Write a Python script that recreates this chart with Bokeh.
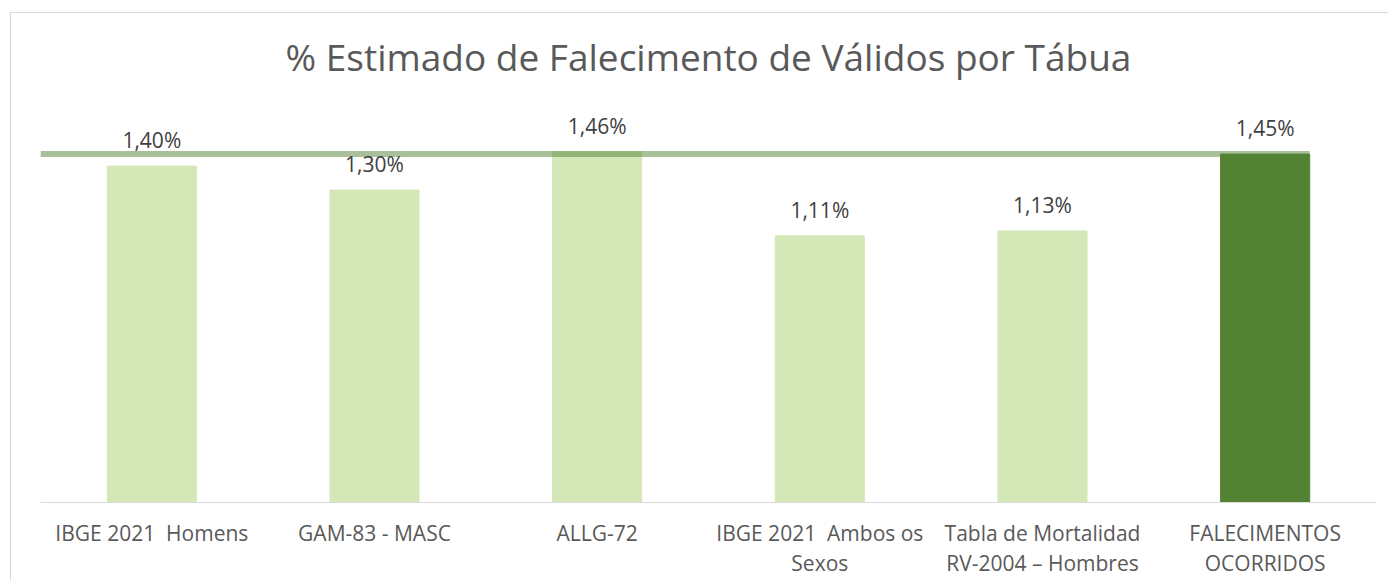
from bokeh.plotting import figure
from bokeh.models import FactorRange, Range1d, ColumnDataSource
from bokeh.core.properties import value
from bokeh.embed import file_html
from bokeh.resources import INLINE

title_text = "% Estimado de Falecimento de Válidos por Tábua"
categories = [
    "IBGE 2021\u00a0 Homens",
    "GAM-83 - MASC",
    "ALLG-72",
    "IBGE 2021\u00a0 Ambos os\nSexos",
    "Tabla de Mortalidad\nRV-2004 \u2013 Hombres",
    "FALECIMENTOS\nOCORRIDOS",
]
values = [1.40, 1.30, 1.46, 1.11, 1.13, 1.45]
colors = ["#d4e8b7", "#d4e8b7", "#d4e8b7", "#d4e8b7", "#d4e8b7", "#548235"]
reference_value = values[-1]
labels = [f"{v:.2f}%".replace(".", ",") for v in values]

FONT = "Open Sans"
BAR_W = 0.4
Y_TOP = 2.035      # top of the chart area (includes room for the title)
TITLE_Y = 1.855    # title position, in value units

p = figure(
    x_range=FactorRange(*categories, range_padding=0),
    y_range=Range1d(0, Y_TOP),
    frame_width=1336, frame_height=489,
    output_backend="svg", toolbar_location=None,
    min_border_left=29, min_border_right=12,
    min_border_top=0, min_border_bottom=72,
)
p.styles = {
    "border-left": "1px solid #d9d9d9",
    "border-top": "1px solid #d9d9d9",
    "margin-left": "10px",
    "margin-top": "12px",
}

n = len(categories)
p.text(x=[n / 2], y=[TITLE_Y], text=[title_text], text_align="center",
       text_baseline="alphabetic", text_font=value(FONT),
       text_font_size="37px", text_color="#595959")

src = ColumnDataSource(dict(x=categories, top=values, color=colors, label=labels))
p.vbar(x="x", top="top", width=BAR_W, color="color", source=src)

p.line(x=[0, n - 0.5 + BAR_W / 2], y=[reference_value, reference_value],
       line_width=6, line_color="#548235", line_alpha=0.5, line_cap="butt")

p.text(x="x", y="top", text="label", source=src, text_align="center",
       text_baseline="alphabetic", y_offset=-26, text_font=value(FONT),
       text_font_size="21px", text_color="#404040")

p.yaxis.visible = False
p.xgrid.visible = False
p.ygrid.visible = False
p.outline_line_color = None
ax = p.xaxis[0]
ax.axis_line_color = "#d9d9d9"
ax.axis_line_width = 1
ax.major_tick_line_color = None
ax.minor_tick_line_color = None
ax.major_label_text_font = FONT
ax.major_label_text_font_size = "21px"
ax.major_label_text_color = "#595959"
ax.major_label_text_line_height = 1.09
ax.major_label_standoff = 10
ax.major_label_orientation = "horizontal"

open("out.html", "w").write(file_html(p, INLINE))
